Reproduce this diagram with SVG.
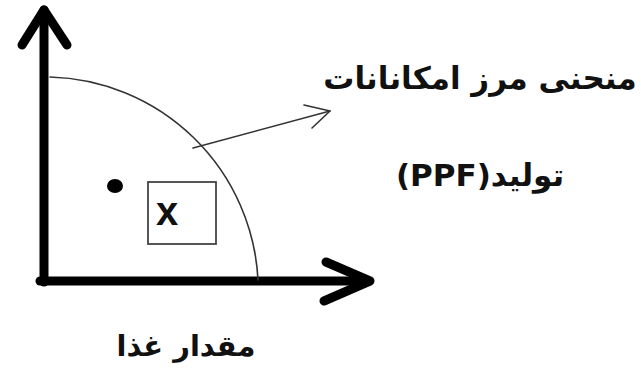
<svg xmlns="http://www.w3.org/2000/svg" width="641" height="368" viewBox="0 0 641 368">
<style>
.axis{fill:none;stroke:#000;stroke-width:9;stroke-linecap:round;stroke-linejoin:round}
.thin{fill:none;stroke:#333;stroke-width:1.6;stroke-linecap:round;stroke-linejoin:round}
.fa{font-family:"DejaVu Sans",sans-serif;font-weight:bold;fill:#111}
</style>
<rect width="641" height="368" fill="#fff"/>
<g id="axes">
<path class="axis" d="M44,282 V10"/>
<path class="axis" d="M22,45 L44,10 L67,45"/>
<path class="axis" d="M40,281 H368"/>
<path class="axis" d="M326,262 L370,281 L324,301"/>
</g>
<g id="curve">
<path class="thin" d="M50,77 A214,214 0 0 1 258,280"/>
</g>
<g id="point">
<ellipse cx="115" cy="186" rx="8" ry="7" fill="#000"/>
</g>
<g id="box">
<rect x="148" y="182" width="68" height="62" fill="none" stroke="#444" stroke-width="1.8"/>
<text x="167" y="225" text-anchor="middle" font-family="Liberation Sans, sans-serif" font-weight="bold" font-size="40" fill="#111">x</text>
</g>
<g id="connectors">
<path class="thin" d="M193,148 L330,111"/>
<path class="thin" d="M304,105 L330,111 L312,128"/>
</g>
<g id="labels">
<text class="fa" x="480" y="89" font-size="31" text-anchor="middle" direction="rtl">منحنی مرز امکانانات</text>
<text class="fa" x="480" y="186" font-size="31" text-anchor="middle" direction="rtl">تولید(PPF)</text>
<text class="fa" x="186" y="356" font-size="29" text-anchor="middle" direction="rtl">مقدار غذا</text>
</g>
</svg>
